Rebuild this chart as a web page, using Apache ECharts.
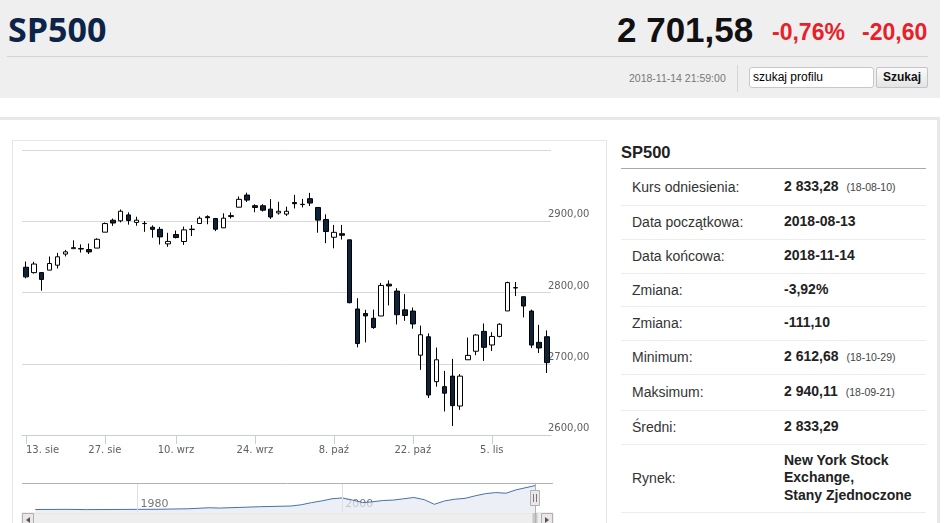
<!DOCTYPE html>
<html><head><meta charset="utf-8">
<script src="https://cdn.jsdelivr.net/npm/echarts@6/dist/echarts.min.js"></script>
<style>
html,body{margin:0;padding:0;background:#fff;width:945px;height:523px;overflow:hidden;font-family:"Liberation Sans",Arial,sans-serif;}
.abs{position:absolute;}
#hdr{left:0;top:0;width:940px;height:98px;background:#efefef;}
#title{left:8px;top:9px;font-family:"Open Sans";font-weight:700;font-size:34px;line-height:40px;color:#0b2447;}
#hline{left:7px;top:56px;width:921px;height:1px;background:#d4d4d4;}
#price{left:617px;top:12px;font-size:35px;line-height:35px;font-weight:700;color:#111;white-space:nowrap;}
.red{top:21px;font-size:23px;line-height:23px;font-weight:700;color:#e8202a;white-space:nowrap;}
#ts{left:629px;top:72px;font-size:10.5px;line-height:12px;color:#777;white-space:nowrap;}
#sep{left:737px;top:65px;width:1px;height:27px;background:#d6d6d6;}
#inp{left:749px;top:67px;width:120px;height:19px;border:1px solid #c8c8c8;border-radius:3px;background:#fff;font-size:12px;line-height:19px;padding-left:3px;color:#000;}
#btn{left:876px;top:67px;width:50px;height:19px;border:1px solid #c4c4c4;border-radius:2px;background:linear-gradient(#fafafa,#e4e4e4);font-size:12px;line-height:19px;font-weight:700;text-align:center;color:#111;}
#panel{left:0;top:117px;width:937px;height:420px;border-top:3px solid #e8e8e8;border-right:3px solid #e8e8e8;}
#box{left:12px;top:140px;width:595px;height:400px;border:1px solid #e6e6e6;box-sizing:border-box;}
#chart{left:12px;top:140px;width:594px;height:383px;}
#ttitle{left:621px;top:142px;font-size:16.5px;line-height:20px;font-weight:700;color:#222;}
#tline{left:621px;top:168px;width:305px;height:1px;background:#a9a9a9;}
.row{position:absolute;left:621px;width:305px;border-bottom:1px solid #ececec;box-sizing:border-box;display:flex;align-items:center;font-size:14px;color:#333;}
.row .l{position:absolute;left:11px;}
.row .v{position:absolute;left:163px;font-weight:700;color:#222;line-height:17.5px;}
.row .s{font-weight:400;font-size:10.5px;color:#444;margin-left:8px;}
</style></head>
<body>
<div id="hdr" class="abs"></div>
<div id="title" class="abs">SP500</div>
<div id="hline" class="abs"></div>
<div id="price" class="abs">2&nbsp;701,58</div>
<div class="abs red" style="left:772px">-0,76%</div>
<div class="abs red" style="left:862px">-20,60</div>
<div id="ts" class="abs">2018-11-14 21:59:00</div>
<div id="sep" class="abs"></div>
<div id="inp" class="abs">szukaj profilu</div>
<div id="btn" class="abs">Szukaj</div>
<div id="panel" class="abs"></div>
<div id="box" class="abs"></div>
<div id="chart" class="abs"></div>
<div id="ttitle" class="abs">SP500</div>
<div id="tline" class="abs"></div>
<div id="rows"></div>
<script>
// ---- data ----
const dates = ['2018-08-13','2018-08-14','2018-08-15','2018-08-16','2018-08-17',
'2018-08-20','2018-08-21','2018-08-22','2018-08-23','2018-08-24',
'2018-08-27','2018-08-28','2018-08-29','2018-08-30','2018-08-31',
'2018-09-04','2018-09-05','2018-09-06','2018-09-07',
'2018-09-10','2018-09-11','2018-09-12','2018-09-13','2018-09-14',
'2018-09-17','2018-09-18','2018-09-19','2018-09-20','2018-09-21',
'2018-09-24','2018-09-25','2018-09-26','2018-09-27','2018-09-28',
'2018-10-01','2018-10-02','2018-10-03','2018-10-04','2018-10-05',
'2018-10-08','2018-10-09','2018-10-10','2018-10-11','2018-10-12',
'2018-10-15','2018-10-16','2018-10-17','2018-10-18','2018-10-19',
'2018-10-22','2018-10-23','2018-10-24','2018-10-25','2018-10-26',
'2018-10-29','2018-10-30','2018-10-31','2018-11-01','2018-11-02',
'2018-11-05','2018-11-06','2018-11-07','2018-11-08','2018-11-09',
'2018-11-12','2018-11-13','2018-11-14'];
const openV = [2835.46,2827.88,2827.95,2831.44,2838.32,
2853.93,2861.51,2860.99,2860.29,2862.35,
2884.69,2901.45,2900.62,2908.94,2898.37,
2896.96,2891.59,2888.64,2868.26,
2881.39,2871.57,2888.29,2896.85,2906.38,
2903.83,2890.74,2906.60,2919.73,2936.76,
2921.83,2921.75,2916.98,2911.65,2910.03,
2926.29,2923.80,2931.69,2919.35,2902.54,
2877.53,2882.51,2873.90,2776.87,2770.54,
2763.83,2767.05,2811.67,2802.00,2775.66,
2773.94,2712.00,2737.87,2674.88,2667.86,
2682.65,2640.68,2705.60,2717.58,2745.45,
2726.37,2738.40,2774.13,2806.38,2794.10,
2773.93,2730.05,2737.90];
const closeV = [2821.93,2839.96,2818.37,2840.69,2850.13,
2857.05,2862.96,2861.82,2856.98,2874.69,
2896.74,2897.52,2914.04,2901.13,2901.52,
2896.72,2888.60,2878.05,2871.68,
2877.13,2887.89,2888.92,2904.18,2904.98,
2888.80,2904.31,2907.95,2930.75,2929.67,
2919.37,2915.56,2905.97,2914.00,2913.98,
2924.59,2923.43,2925.51,2901.61,2885.57,
2884.43,2880.34,2785.68,2728.37,2767.13,
2750.79,2809.92,2809.21,2768.78,2767.78,
2755.88,2740.69,2656.10,2705.57,2658.69,
2641.25,2682.63,2711.74,2740.37,2723.06,
2738.31,2755.45,2813.89,2806.83,2781.01,
2726.22,2722.18,2701.58];
const lowV = [2819.88,2826.58,2802.49,2831.44,2833.73,
2850.62,2861.32,2856.05,2854.03,2862.35,
2884.69,2893.50,2898.40,2895.22,2893.67,
2885.13,2876.92,2867.29,2864.12,
2875.94,2866.78,2879.20,2896.39,2895.77,
2886.16,2890.43,2903.82,2919.73,2927.11,
2912.63,2913.70,2903.28,2909.27,2907.50,
2917.91,2919.37,2921.36,2883.92,2869.29,
2862.00,2874.27,2784.86,2723.00,2730.00,
2749.03,2766.91,2781.81,2755.18,2760.27,
2749.22,2691.43,2651.89,2667.84,2633.00,
2612.68,2635.34,2705.60,2712.00,2704.00,
2717.94,2737.08,2774.13,2794.99,2765.00,
2722.00,2714.98,2687.00];
const highV = [2843.40,2843.11,2827.95,2850.49,2855.63,
2859.76,2873.23,2867.54,2868.78,2876.16,
2898.25,2903.77,2916.50,2912.46,2906.32,
2900.18,2894.21,2892.05,2883.81,
2886.93,2892.52,2894.65,2906.76,2908.30,
2904.65,2911.17,2912.36,2934.80,2940.11,
2923.79,2923.95,2931.15,2927.22,2920.53,
2937.06,2931.42,2939.86,2919.78,2909.64,
2894.83,2894.83,2874.02,2792.00,2775.77,
2775.99,2813.46,2816.94,2806.04,2797.77,
2778.94,2753.59,2742.59,2722.70,2690.00,
2706.85,2685.43,2736.69,2741.67,2756.55,
2744.27,2756.82,2815.15,2814.75,2794.10,
2775.99,2754.60,2746.80];
const tickIdx = [0,10,19,29,39,49,59];
const tickText = ['13. sie','27. sie','10. wrz','24. wrz','8. paź','22. paź','5. lis'];
const yMin = 2600, yMax = 3000, yStep = 100;
// navigator (long-term history, read approximately)
const navYears = [1970,1973,1975,1980,1982,1985,1987,1988,1990,1992,1995,1996,1997,1998,1999,2000,2001,2002,2003,2004,2005,2006,2007,2008,2009,2010,2011,2012,2013,2014,2015,2016,2017,2018.87];
const navValues = [90,110,80,110,120,180,300,260,340,420,500,650,900,1100,1350,1450,1200,900,1000,1150,1200,1350,1500,1250,700,1100,1300,1400,1700,1950,2080,2000,2400,2900];
const navLabels = [1980,2000];
// table
const tblLabels = ['Kurs odniesienia:','Data początkowa:','Data końcowa:','Zmiana:','Zmiana:','Minimum:','Maksimum:','Średni:','Rynek:'];
const tblValues = ['2&nbsp;833,28','2018-08-13','2018-11-14','-3,92%','-111,10','2&nbsp;612,68','2&nbsp;940,11','2&nbsp;833,29','New York Stock<br>Exchange,<br>Stany Zjednoczone'];
const tblNotes = ['(18-08-10)','','','','','(18-10-29)','(18-09-21)','',''];
const rowEdges = [169,205,239,273,306,340,374,410,444,512];

// ---- table ----
(function(){
  let h='';
  for(let i=0;i<tblLabels.length;i++){
    const t=rowEdges[i], hh=rowEdges[i+1]-rowEdges[i];
    h+='<div class="row" style="top:'+t+'px;height:'+(hh+1)+'px"><span class="l">'+tblLabels[i]+'</span><span class="v">'+tblValues[i]+(tblNotes[i]?'<span class="s">'+tblNotes[i]+'</span>':'')+'</span></div>';
  }
  document.getElementById('rows').innerHTML=h;
})();

// ---- chart ----
const chart = echarts.init(document.getElementById('chart'), null, {renderer:'canvas'});
const candle = dates.map((d,i)=>[openV[i],closeV[i],lowV[i],highV[i]]);
const navData = navYears.map((y,i)=>[y,navValues[i]]);
const lblFont = 'DejaVu Sans';
chart.setOption({
  animation:false,
  grid:[{left:10,top:10,width:529,height:285},{left:10,top:343,width:529,height:29}],
  xAxis:[{
    type:'category',data:dates,gridIndex:0,boundaryGap:true,
    axisLine:{lineStyle:{color:'#C0D0E0'}},
    axisTick:{show:true,alignWithLabel:true,length:9,interval:(i)=>tickIdx.includes(i),lineStyle:{color:'#C0D0E0'}},
    axisLabel:{interval:(i)=>tickIdx.includes(i),formatter:(v,i)=>tickText[tickIdx.indexOf(i)]||'',color:'#606060',fontSize:10,fontFamily:lblFont,margin:10,alignMinLabel:'left'},
    splitLine:{show:false}
  },{
    type:'value',gridIndex:1,min:1968.7,max:2020.4,
    axisLine:{show:false},axisTick:{show:false},splitLine:{show:false},
    axisLabel:{customValues:navLabels,inside:true,align:'left',padding:[0,0,0,3],margin:2,color:'#777',fontSize:11,fontFamily:lblFont,formatter:v=>String(v)}
  }],
  yAxis:[{
    type:'value',gridIndex:0,position:'right',min:yMin,max:yMax,interval:yStep,
    axisLine:{show:false},axisTick:{show:false},
    axisLabel:{formatter:v=>v===yMax?'':v.toFixed(2).replace('.',','),color:'#606060',fontSize:10,fontFamily:lblFont,margin:-3,verticalAlign:'bottom',align:'left',lineHeight:13},
    splitLine:{lineStyle:{color:'#D8D8D8',width:1}}
  },{
    type:'value',gridIndex:1,min:-200,max:3200,show:false
  }],
  series:[{
    type:'candlestick',data:candle,xAxisIndex:0,yAxisIndex:0,barWidth:5,
    itemStyle:{color:'#ffffff',color0:'#0d233a',borderColor:'#000000',borderColor0:'#000000',borderWidth:1}
  },{
    type:'line',xAxisIndex:1,yAxisIndex:1,data:navData,symbol:'none',
    lineStyle:{color:'#4572A7',width:1},areaStyle:{color:'#e4eaf2',origin:'start'},
    markLine:{silent:true,symbol:['none','none'],label:{show:false},lineStyle:{color:'#e0e0e0',type:'solid',width:1},data:navLabels.map(y=>({xAxis:y}))}
  }]
});
// navigator furniture (outline, handle, scrollbar)
const hx = Math.round(chart.convertToPixel({xAxisIndex:1}, navYears[navYears.length-1]))+0.5;
chart.setOption({graphic:[
  {type:'line',shape:{x1:10,y1:343.5,x2:541,y2:343.5},style:{stroke:'#b2b1b6',lineWidth:1},z:10},
  {type:'rect',shape:{x:10,y:373,width:531,height:14},style:{fill:'#eeeeee',stroke:'#e0e0e0'},z:10},
  {type:'rect',shape:{x:10.5,y:373.5,width:11,height:13},style:{fill:'#ebe7e8',stroke:'#b0b0b0'},z:11},
  {type:'polygon',shape:{points:[[18,377],[18,383],[14,380]]},style:{fill:'#555'},z:12},
  {type:'rect',shape:{x:529.5,y:373.5,width:11,height:13},style:{fill:'#ebe7e8',stroke:'#b0b0b0'},z:11},
  {type:'polygon',shape:{points:[[533,377],[533,383],[537,380]]},style:{fill:'#555'},z:12},
  {type:'rect',shape:{x:hx-3,y:373,width:5,height:14},style:{fill:'#c8c8c8'},z:11},
  {type:'line',shape:{x1:hx,y1:343,x2:hx,y2:383},style:{stroke:'#b2b1b6',lineWidth:1},z:12},
  {type:'rect',shape:{x:hx-5,y:350.5,width:9,height:15},style:{fill:'#ebe7e8',stroke:'#b2b1b6',lineWidth:1},z:13},
  {type:'line',shape:{x1:hx-2,y1:354,x2:hx-2,y2:362},style:{stroke:'#777',lineWidth:1},z:14},
  {type:'line',shape:{x1:hx+1,y1:354,x2:hx+1,y2:362},style:{stroke:'#777',lineWidth:1},z:14}
]});
</script>
</body></html>
